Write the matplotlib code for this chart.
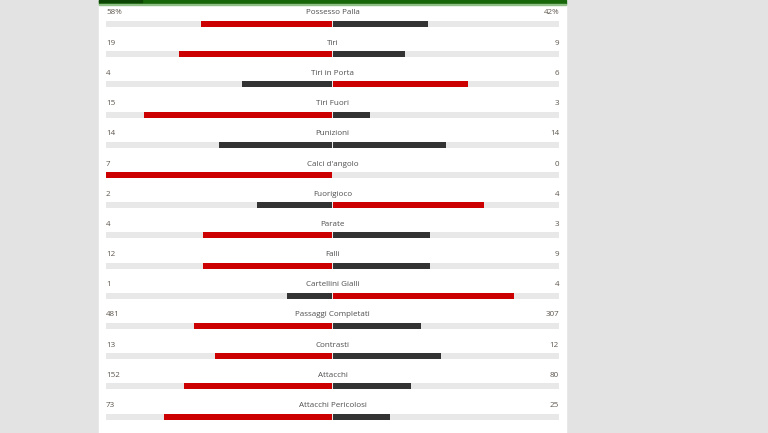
import matplotlib.pyplot as plt
from matplotlib.patches import Rectangle

labels = ["Possesso Palla", "Tiri", "Tiri in Porta", "Tiri Fuori", "Punizioni",
          "Calci d'angolo", "Fuorigioco", "Parate", "Falli", "Cartellini Gialli",
          "Passaggi Completati", "Contrasti", "Attacchi", "Attacchi Pericolosi"]
home = [58, 19, 4, 15, 14, 7, 2, 4, 12, 1, 481, 13, 152, 73]
away = [42, 9, 6, 3, 14, 0, 4, 3, 9, 4, 307, 12, 80, 25]
home_txt = ["58%"] + [str(v) for v in home[1:]]
away_txt = ["42%"] + [str(v) for v in away[1:]]

RED = "#cc0000"
DARK = "#333333"
TRACK = "#e8e8e8"

W, H = 768, 433
fig = plt.figure(figsize=(W / 100, H / 100), dpi=100)
fig.patch.set_facecolor("#e3e3e3")
ax = fig.add_axes([0, 0, 1, 1])
ax.set_xlim(0, W)
ax.set_ylim(H, 0)
ax.axis("off")

# white panel + green header strip
ax.add_patch(Rectangle((99, 0), 467, H, color="white", zorder=0))
ax.add_patch(Rectangle((99, 0), 467, 4, color="#17660a", zorder=1))
ax.add_patch(Rectangle((99, 0), 43, 1.5, color="#0d4504", zorder=2))
ax.add_patch(Rectangle((99, 4), 467, 1, color="#8fbf85", zorder=1))

x0, x1 = 106, 559
cx = (x0 + x1) / 2
half = (x1 - x0) / 2
y_bar = [24 + 30.2 * i for i in range(len(labels))]

ax.barh(y_bar, x1 - x0, left=x0, height=6, color=TRACK, zorder=2)
for i, (a, b) in enumerate(zip(home, away)):
    tot = a + b
    la = a / tot * half if tot else 0
    lb = b / tot * half if tot else 0
    ca = RED if a > b else DARK
    cb = RED if b > a else DARK
    y = y_bar[i]
    if la > 0:
        ax.barh(y, la - 0.5, left=cx - la, height=6, color=ca, zorder=3)
    if lb > 0:
        ax.barh(y, lb - 0.5, left=cx + 0.5, height=6, color=cb, zorder=3)
    ty = y - 11
    ax.text(x0, ty, home_txt[i], ha="left", va="center", fontsize=5.8,
            color="#5e564e", family="Open Sans")
    ax.text(x1, ty, away_txt[i], ha="right", va="center", fontsize=5.8,
            color="#5e564e", family="Open Sans")
    ax.text(cx, ty, labels[i], ha="center", va="center", fontsize=5.8,
            color="#4f4f4f", family="Open Sans")

fig.savefig("out.png", dpi=100, facecolor=fig.get_facecolor())
